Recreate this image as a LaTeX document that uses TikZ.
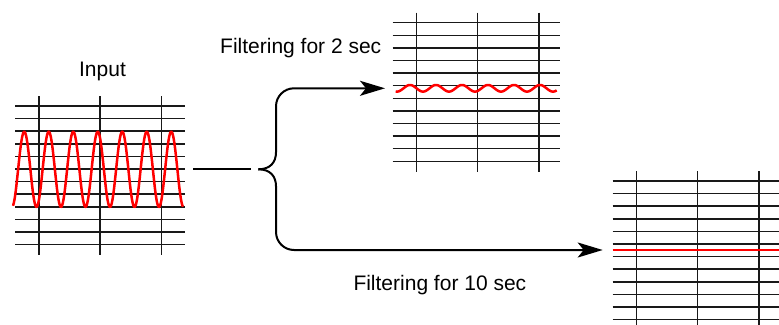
\documentclass[tikz,border=0pt]{standalone}
\usepackage{fontspec}
\setmainfont{Liberation Sans}
\usetikzlibrary{arrows.meta,positioning,calc}
\definecolor{wavered}{RGB}{255,0,0}
\tikzset{
  sheet/.style={anchor=north west,minimum height=159pt,inner sep=0pt,draw=none},
  gridline/.style={line width=1.5pt,black!90},
  signal/.style={line width=2.5pt,wavered,line join=round},
  link/.style={line width=2pt},
  flow/.style={-{Stealth[length=25pt,width=15pt,inset=6pt]},line width=2pt},
  caption/.style={font=\fontsize{21}{25}\selectfont,inner sep=0pt},
}
% grid of a chart: 12 rows, 3 columns
\newcommand{\chartgrid}[1]{%
  \foreach \k in {0,...,11}
    \draw[gridline] ($(#1.north west)+(0,{10+12.6*\k})$) -- ($(#1.north east)+(0,{10+12.6*\k})$);
  \foreach \v in {24,85,146.5}
    \draw[gridline] ($(#1.north west)+(\v,0)$) -- ($(#1.south west)+(\v,0)$);
}

\begin{document}
\begin{tikzpicture}[x=1pt,y=-1pt]
  \useasboundingbox (0,0) rectangle (779,324);
  \node[sheet,minimum width=170pt] (input) at (15,96) {};
  \node[sheet,minimum width=167pt] (short) at (392.7,12.7) {};
  \node[sheet,minimum width=167pt] (long) at (612.7,171) {};
  \chartgrid{input}
  \chartgrid{short}
  \chartgrid{long}
  \coordinate (inaxis) at ($(input.north east)+(0,73.3)$);
  \coordinate (shortaxis) at ($(short.north west)+(0,75.6)$);
  \coordinate (longaxis) at ($(long.north west)+(0,79)$);
  \coordinate (split) at (258.3,169.3);
  % signals
  \draw[signal] plot[domain=13:183,samples=260] (\x,{169.3+37.7*cos(14.694*(\x-36.5))});
  \draw[signal] plot[domain=395.7:556.7,samples=200] (\x,{88.3-3.3*cos(13.846*(\x-410))});
  \draw[signal] (longaxis) -- ($(long.north east)+(0,79)$);
  % connectors
  \draw[link,shorten <=8pt,shorten >=7.6pt] (inaxis) -- (split);
  \draw[flow,shorten >=7.7pt] (split) .. controls +(12,0) and +(0,10) .. ++(17.7,-17)
    [rounded corners=18pt] |- (shortaxis);
  \draw[flow,shorten >=10pt] (split) .. controls +(12,0) and +(0,-10) .. ++(17.7,17)
    [rounded corners=18pt] |- (longaxis);
  % labels
  \node[caption,anchor=base] (inlabel) at (102.5,76.7) {Input};
  \node[caption,anchor=base west] (shortlabel) at (220,53.3) {Filtering for 2 sec};
  \node[caption,anchor=base west] (longlabel) at (353.3,290.7) {Filtering for 10 sec};
\end{tikzpicture}
\end{document}
